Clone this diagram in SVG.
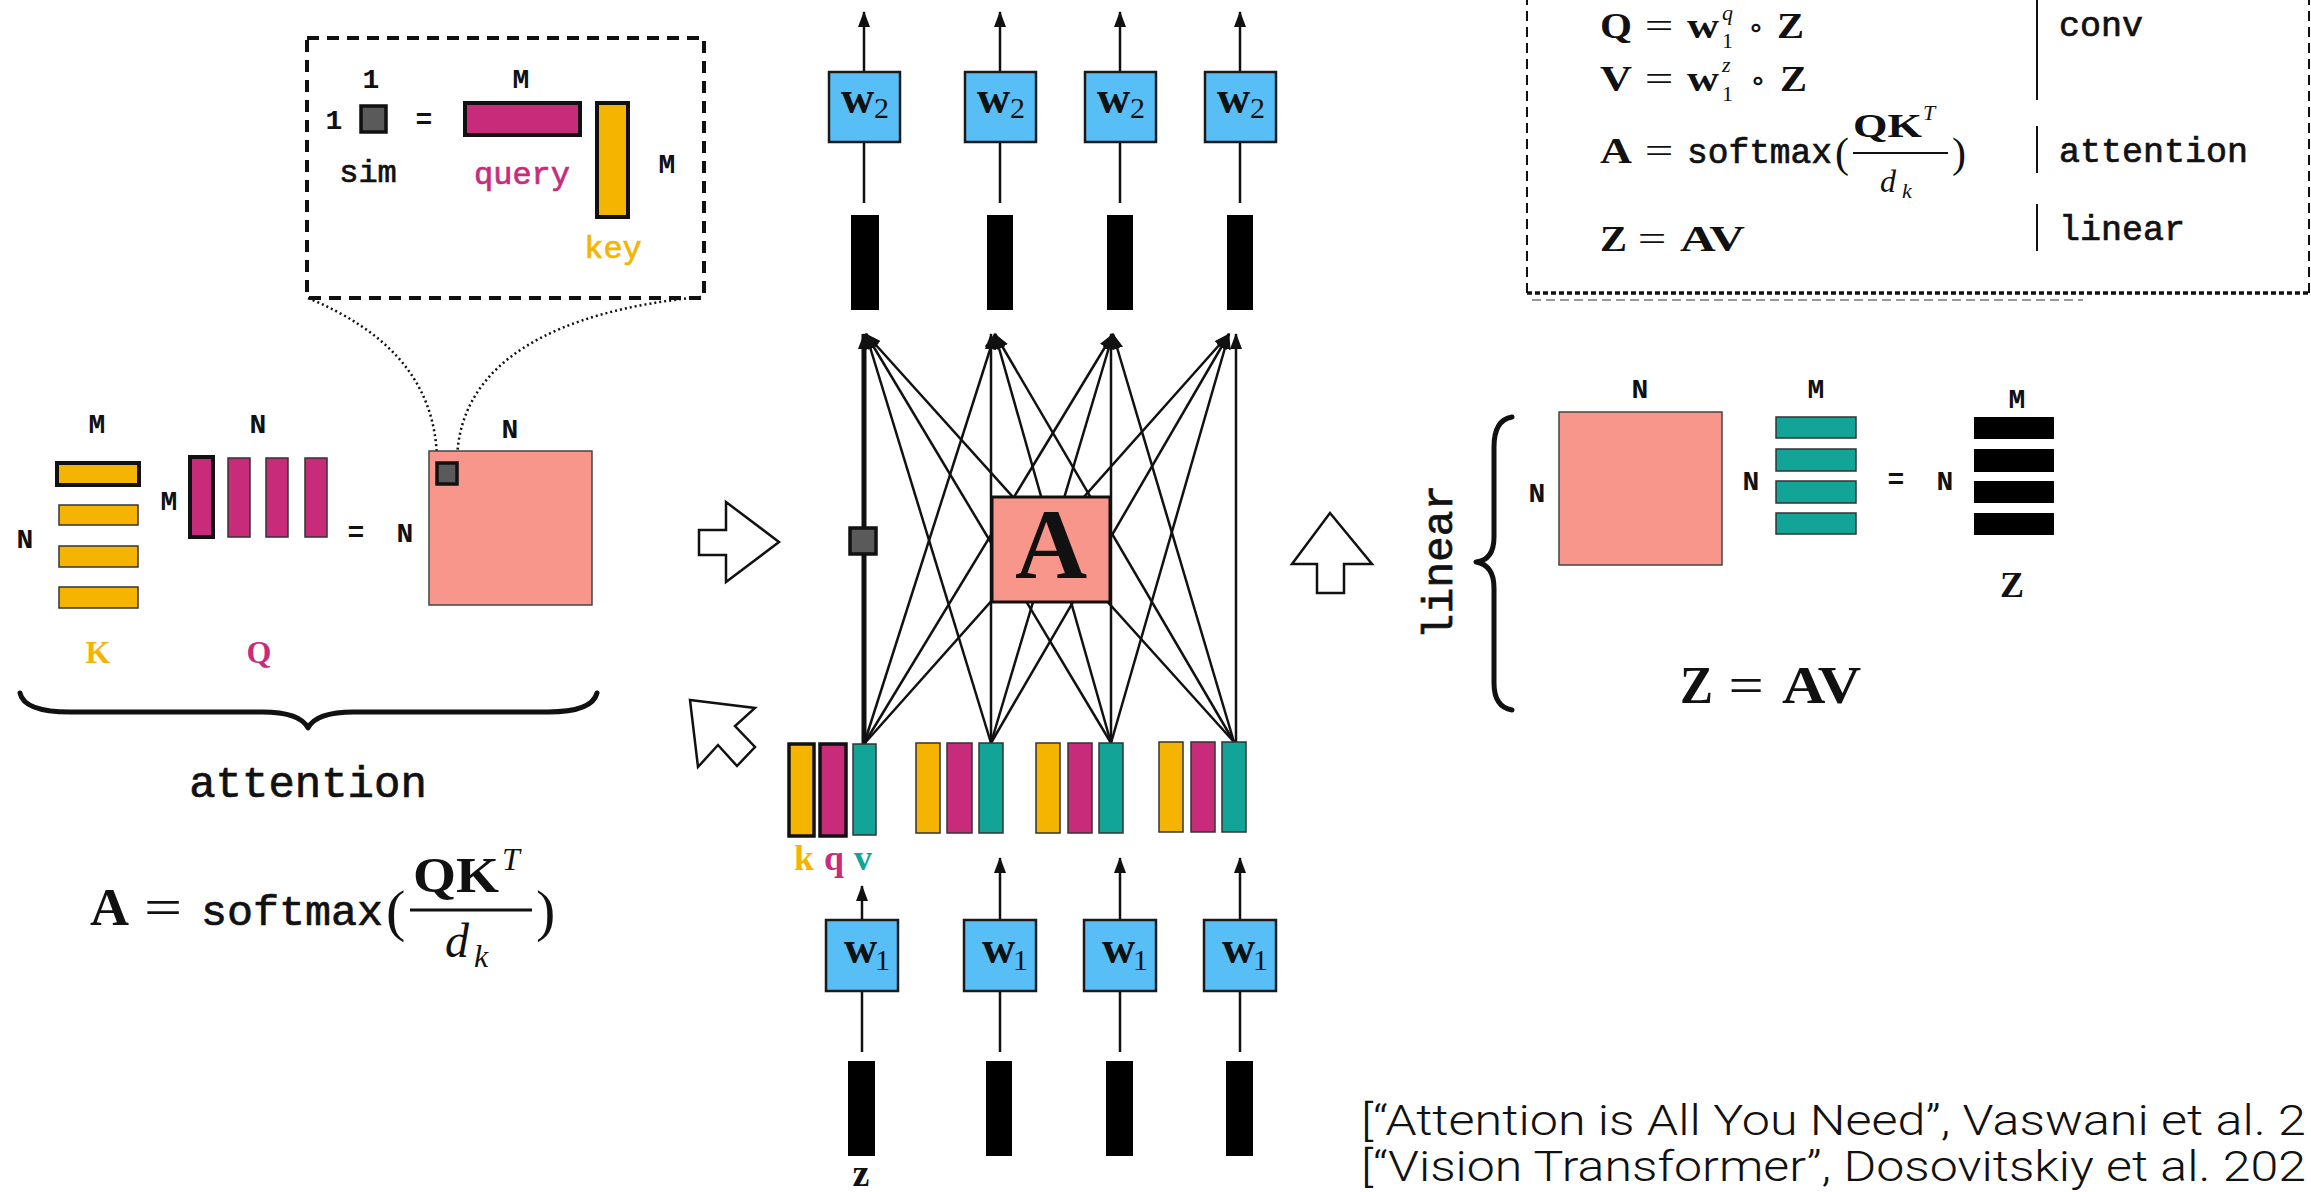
<svg xmlns="http://www.w3.org/2000/svg" width="2311" height="1192" viewBox="0 0 2311 1192">
<defs>
<style>
.mono{font-family:"Liberation Mono","DejaVu Sans Mono",monospace;fill:#111;stroke:#111;stroke-width:0.7}
.lab{font-family:"Liberation Mono","DejaVu Sans Mono",monospace;font-weight:bold;font-size:28px;fill:#111;text-anchor:middle}
.bs{font-family:"Liberation Serif","DejaVu Serif",serif;font-weight:bold;fill:#111}
.rm{font-family:"Liberation Serif","DejaVu Serif",serif;fill:#111}
.it{font-family:"Liberation Serif","DejaVu Serif",serif;font-style:italic;fill:#111}
.yel{fill:#F4B400}
.mag{fill:#C92B7B}
.teal{fill:#12A496}
.mono.yel{stroke:#F4B400}
.mono.mag{stroke:#C92B7B}
.thin{stroke:#333;stroke-width:1.5}
.thick{stroke:#111;stroke-width:4}
.blk{fill:#000}
.wbox{fill:#58BEF6;stroke:#1a1a1a;stroke-width:2.5}
.ln{stroke:#111;stroke-width:2.5;fill:none}
.hollow{fill:#fff;stroke:#111;stroke-width:2.5;stroke-linejoin:miter}
.brace{fill:none;stroke:#111;stroke-width:5;stroke-linecap:round;stroke-linejoin:round}
.cite{font-family:Roboto,"Open Sans","Liberation Sans",sans-serif;font-weight:300;font-size:42px;fill:#111}
</style>
<marker id="ah" markerUnits="userSpaceOnUse" markerWidth="16" markerHeight="12" refX="15" refY="6" orient="auto">
<path d="M0,0 L16,6 L0,12 z" fill="#111"/>
</marker>
</defs>
<rect width="2311" height="1192" fill="#fff"/>

<!-- connectors -->
<g id="connectors">
  <path d="M308,298 C385,330 437,380 437,463" fill="none" stroke="#111" stroke-width="2.5" stroke-dasharray="2 3"/>
  <path d="M701,297 C560,310 457,360 457,463" fill="none" stroke="#111" stroke-width="2.5" stroke-dasharray="2 3"/>
  <line x1="864" y1="744" x2="864" y2="334" stroke="#111" stroke-width="5" marker-end="url(#ah)"/>
  <line x1="991" y1="743" x2="991" y2="334" class="ln" marker-end="url(#ah)"/>
  <line x1="1111" y1="743" x2="1111" y2="334" class="ln" marker-end="url(#ah)"/>
  <line x1="1236" y1="742" x2="1236" y2="334" class="ln" marker-end="url(#ah)"/>
  <line x1="864" y1="744" x2="995" y2="334" class="ln" marker-end="url(#ah)"/>
  <line x1="864" y1="744" x2="1113" y2="334" class="ln" marker-end="url(#ah)"/>
  <line x1="864" y1="744" x2="1229" y2="334" class="ln" marker-end="url(#ah)"/>
  <line x1="991" y1="743" x2="866" y2="334" class="ln" marker-end="url(#ah)"/>
  <line x1="991" y1="743" x2="1113" y2="334" class="ln" marker-end="url(#ah)"/>
  <line x1="991" y1="743" x2="1229" y2="334" class="ln" marker-end="url(#ah)"/>
  <line x1="1111" y1="743" x2="866" y2="334" class="ln" marker-end="url(#ah)"/>
  <line x1="1111" y1="743" x2="995" y2="334" class="ln" marker-end="url(#ah)"/>
  <line x1="1111" y1="743" x2="1229" y2="334" class="ln" marker-end="url(#ah)"/>
  <line x1="1234" y1="742" x2="866" y2="334" class="ln" marker-end="url(#ah)"/>
  <line x1="1234" y1="742" x2="995" y2="334" class="ln" marker-end="url(#ah)"/>
  <line x1="1234" y1="742" x2="1113" y2="334" class="ln" marker-end="url(#ah)"/>
  <line x1="864" y1="72" x2="864" y2="12" class="ln" marker-end="url(#ah)"/>
  <line x1="1000" y1="72" x2="1000" y2="12" class="ln" marker-end="url(#ah)"/>
  <line x1="1120" y1="72" x2="1120" y2="12" class="ln" marker-end="url(#ah)"/>
  <line x1="1240" y1="72" x2="1240" y2="12" class="ln" marker-end="url(#ah)"/>
  <line x1="864" y1="142" x2="864" y2="203" class="ln"/>
  <line x1="1000" y1="142" x2="1000" y2="203" class="ln"/>
  <line x1="1120" y1="142" x2="1120" y2="203" class="ln"/>
  <line x1="1240" y1="142" x2="1240" y2="203" class="ln"/>
  <line x1="862" y1="920" x2="862" y2="886" class="ln" marker-end="url(#ah)"/>
  <line x1="1000" y1="920" x2="1000" y2="858" class="ln" marker-end="url(#ah)"/>
  <line x1="1120" y1="920" x2="1120" y2="858" class="ln" marker-end="url(#ah)"/>
  <line x1="1240" y1="920" x2="1240" y2="858" class="ln" marker-end="url(#ah)"/>
  <line x1="862" y1="991" x2="862" y2="1052" class="ln"/>
  <line x1="1000" y1="991" x2="1000" y2="1052" class="ln"/>
  <line x1="1120" y1="991" x2="1120" y2="1052" class="ln"/>
  <line x1="1240" y1="991" x2="1240" y2="1052" class="ln"/>
</g>

<!-- zoom box -->
<g id="zoom-box">
  <rect x="307" y="38" width="397" height="260" fill="none" stroke="#111" stroke-width="4" stroke-dasharray="12 8"/>
  <text x="371" y="88" class="lab">1</text>
  <text x="521" y="88" class="lab">M</text>
  <text x="334" y="129" class="lab">1</text>
  <rect x="361" y="106" width="25" height="26" fill="#5a5a5a" stroke="#111" stroke-width="3.5"/>
  <text x="424" y="128" class="lab">=</text>
  <rect x="465" y="103" width="115" height="32" class="mag" stroke="#111" stroke-width="4"/>
  <rect x="597" y="103" width="31" height="114" class="yel" stroke="#111" stroke-width="4"/>
  <text x="667" y="173" class="lab">M</text>
  <text x="368" y="182" class="mono" font-size="32" text-anchor="middle">sim</text>
  <text x="522" y="184" class="mono mag" font-size="32" text-anchor="middle">query</text>
  <text x="613" y="258" class="mono yel" font-size="32" text-anchor="middle">key</text>
</g>

<!-- K matrix -->
<g id="K">
  <text x="97" y="433" class="lab">M</text>
  <text x="25" y="548" class="lab">N</text>
  <rect x="57" y="463" width="82" height="22" class="yel thick"/>
  <rect x="59" y="505" width="79" height="20" class="yel thin"/>
  <rect x="59" y="546" width="79" height="21" class="yel thin"/>
  <rect x="59" y="587" width="79" height="21" class="yel thin"/>
  <text x="98" y="663" class="bs yel" font-size="32" text-anchor="middle">K</text>
</g>

<!-- Q matrix -->
<g id="Q">
  <text x="258" y="433" class="lab">N</text>
  <text x="169" y="510" class="lab">M</text>
  <rect x="190" y="457" width="23" height="80" class="mag thick"/>
  <rect x="228" y="458" width="22" height="79" class="mag thin"/>
  <rect x="266" y="458" width="22" height="79" class="mag thin"/>
  <rect x="305" y="458" width="22" height="79" class="mag thin"/>
  <text x="259" y="663" class="bs mag" font-size="32" text-anchor="middle">Q</text>
  <text x="356" y="541" class="lab">=</text>
</g>

<!-- A matrix (left) -->
<g id="A-matrix">
  <text x="510" y="438" class="lab">N</text>
  <text x="405" y="542" class="lab">N</text>
  <rect x="429" y="451" width="163" height="154" fill="#F9968B" stroke="#444" stroke-width="1.5"/>
  <rect x="437" y="463" width="20" height="21" fill="#5a5a5a" stroke="#111" stroke-width="3.5"/>
</g>

<!-- attention brace and formula -->
<g id="attention">
  <path class="brace" d="M20,693 Q24,712 70,712 L262,712 Q300,712 308,728 Q316,712 354,712 L548,712 Q592,712 597,693"/>
  <text x="308" y="797" class="mono" font-size="44" text-anchor="middle">attention</text>
  <text x="90" y="925" class="bs" font-size="52" textLength="39" lengthAdjust="spacingAndGlyphs">A</text>
  <text transform="translate(163,925) scale(1.3,1)" class="rm" font-size="52" text-anchor="middle">=</text>
  <text x="201" y="925" class="mono" font-size="43" textLength="182" lengthAdjust="spacingAndGlyphs">softmax</text>
  <text x="386" y="930" class="rm" font-size="58">(</text>
  <text x="413" y="892" class="bs" font-size="50" textLength="86" lengthAdjust="spacingAndGlyphs">QK</text>
  <text x="502" y="870" class="it" font-size="32">T</text>
  <line x1="410" y1="910" x2="532" y2="910" stroke="#111" stroke-width="3"/>
  <text x="445" y="957" class="it" font-size="48">d</text>
  <text x="474" y="967" class="it" font-size="32">k</text>
  <text x="536" y="930" class="rm" font-size="58">)</text>
</g>

<!-- hollow arrows -->
<g id="arrow-right">
  <polygon class="hollow" points="699,530 726,530 726,502 779,542 726,582 726,555 699,555"/>
</g>
<g id="arrow-cursor">
  <polygon class="hollow" points="690,700 755,708 735,726 755,747 737,766 718,745 698,767"/>
</g>
<g id="arrow-up">
  <polygon class="hollow" points="1330,513 1372,564 1344,564 1344,593 1317,593 1317,564 1292,564"/>
</g>

<!-- top w2 boxes and bars -->
<g id="w2-1"><rect x="829" y="72" width="71" height="70" class="wbox"/><text x="841" y="113" class="bs" font-size="46">w</text><text x="874" y="118" class="rm" font-size="30">2</text></g>
<g id="w2-2"><rect x="965" y="72" width="71" height="70" class="wbox"/><text x="977" y="113" class="bs" font-size="46">w</text><text x="1010" y="118" class="rm" font-size="30">2</text></g>
<g id="w2-3"><rect x="1085" y="72" width="71" height="70" class="wbox"/><text x="1097" y="113" class="bs" font-size="46">w</text><text x="1130" y="118" class="rm" font-size="30">2</text></g>
<g id="w2-4"><rect x="1205" y="72" width="71" height="70" class="wbox"/><text x="1217" y="113" class="bs" font-size="46">w</text><text x="1250" y="118" class="rm" font-size="30">2</text></g>
<g id="out-bars">
  <rect x="851" y="215" width="28" height="95" class="blk"/>
  <rect x="987" y="215" width="26" height="95" class="blk"/>
  <rect x="1107" y="215" width="26" height="95" class="blk"/>
  <rect x="1227" y="215" width="26" height="95" class="blk"/>
</g>

<g id="sim-cell">
  <rect x="850" y="528" width="26" height="26" fill="#5a5a5a" stroke="#111" stroke-width="3.5"/>
</g>

<g id="A-box">
  <rect x="992" y="497" width="118" height="105" fill="#F9968B" stroke="#111" stroke-width="3"/>
  <text x="1051" y="578" class="bs" font-size="100" text-anchor="middle">A</text>
</g>

<g id="kqv-1">
  <rect x="789" y="744" width="25" height="92" class="yel" stroke="#111" stroke-width="3.5"/>
  <rect x="820" y="744" width="26" height="92" class="mag" stroke="#111" stroke-width="3.5"/>
  <rect x="853" y="744" width="23" height="91" class="teal thin"/>
  <text x="804" y="870" class="bs yel" font-size="36" text-anchor="middle">k</text>
  <text x="834" y="870" class="bs mag" font-size="36" text-anchor="middle">q</text>
  <text x="863" y="870" class="bs teal" font-size="36" text-anchor="middle">v</text>
</g>
<g id="kqv-2">
  <rect x="916" y="743" width="24" height="90" class="yel thin"/>
  <rect x="947" y="743" width="25" height="90" class="mag thin"/>
  <rect x="979" y="743" width="24" height="90" class="teal thin"/>
</g>
<g id="kqv-3">
  <rect x="1036" y="743" width="24" height="90" class="yel thin"/>
  <rect x="1068" y="743" width="24" height="90" class="mag thin"/>
  <rect x="1099" y="743" width="24" height="90" class="teal thin"/>
</g>
<g id="kqv-4">
  <rect x="1159" y="742" width="24" height="90" class="yel thin"/>
  <rect x="1191" y="742" width="24" height="90" class="mag thin"/>
  <rect x="1222" y="742" width="24" height="90" class="teal thin"/>
</g>

<g id="w1-1"><rect x="826" y="920" width="72" height="71" class="wbox"/><text x="844" y="963" class="bs" font-size="46">w</text><text x="875" y="970" class="rm" font-size="30">1</text></g>
<g id="w1-2"><rect x="964" y="920" width="72" height="71" class="wbox"/><text x="982" y="963" class="bs" font-size="46">w</text><text x="1013" y="970" class="rm" font-size="30">1</text></g>
<g id="w1-3"><rect x="1084" y="920" width="72" height="71" class="wbox"/><text x="1102" y="963" class="bs" font-size="46">w</text><text x="1133" y="970" class="rm" font-size="30">1</text></g>
<g id="w1-4"><rect x="1204" y="920" width="72" height="71" class="wbox"/><text x="1222" y="963" class="bs" font-size="46">w</text><text x="1253" y="970" class="rm" font-size="30">1</text></g>

<g id="in-bars">
  <rect x="848" y="1061" width="27" height="95" class="blk"/>
  <rect x="986" y="1061" width="26" height="95" class="blk"/>
  <rect x="1106" y="1061" width="27" height="95" class="blk"/>
  <rect x="1226" y="1061" width="27" height="95" class="blk"/>
  <text x="861" y="1186" class="bs" font-size="38" text-anchor="middle">z</text>
</g>

<!-- formula box (top right) -->
<g id="formula-box">
  <path d="M1527,-5 L1527,293" fill="none" stroke="#111" stroke-width="2" stroke-dasharray="10 6"/>
  <path d="M2309,-5 L2309,293" fill="none" stroke="#111" stroke-width="2" stroke-dasharray="10 6"/>
  <path d="M1527,293 L2311,293" fill="none" stroke="#111" stroke-width="3.5" stroke-dasharray="5 3"/>
  <path d="M1532,300 L2083,300" fill="none" stroke="#777" stroke-width="1.5" stroke-dasharray="9 5"/>
  <text x="1600" y="38" class="bs" font-size="35" textLength="32" lengthAdjust="spacingAndGlyphs">Q</text>
  <text transform="translate(1659,38) scale(1.45,1)" class="rm" font-size="35" text-anchor="middle">=</text>
  <text x="1687" y="38" class="bs" font-size="35" textLength="32" lengthAdjust="spacingAndGlyphs">w</text>
  <text x="1722" y="20" class="it" font-size="22">q</text>
  <text x="1722" y="48" class="rm" font-size="22">1</text>
  <text x="1756" y="38" class="rm" font-size="32" text-anchor="middle">∘</text>
  <text x="1777" y="38" class="bs" font-size="35" textLength="27" lengthAdjust="spacingAndGlyphs">Z</text>
  <text x="1600" y="91" class="bs" font-size="35" textLength="32" lengthAdjust="spacingAndGlyphs">V</text>
  <text transform="translate(1659,91) scale(1.45,1)" class="rm" font-size="35" text-anchor="middle">=</text>
  <text x="1687" y="91" class="bs" font-size="35" textLength="32" lengthAdjust="spacingAndGlyphs">w</text>
  <text x="1722" y="72" class="it" font-size="22">z</text>
  <text x="1722" y="101" class="rm" font-size="22">1</text>
  <text x="1758" y="91" class="rm" font-size="32" text-anchor="middle">∘</text>
  <text x="1780" y="91" class="bs" font-size="35" textLength="27" lengthAdjust="spacingAndGlyphs">Z</text>
  <text x="1600" y="163" class="bs" font-size="35" textLength="32" lengthAdjust="spacingAndGlyphs">A</text>
  <text transform="translate(1659,163) scale(1.45,1)" class="rm" font-size="35" text-anchor="middle">=</text>
  <text x="1687" y="163" class="mono" font-size="35" textLength="145" lengthAdjust="spacingAndGlyphs">softmax</text>
  <text x="1835" y="167" class="rm" font-size="42">(</text>
  <text x="1853" y="137" class="bs" font-size="34" textLength="69" lengthAdjust="spacingAndGlyphs">QK</text>
  <text x="1923" y="120" class="it" font-size="22">T</text>
  <line x1="1853" y1="153" x2="1948" y2="153" stroke="#111" stroke-width="2"/>
  <text x="1880" y="192" class="it" font-size="32">d</text>
  <text x="1902" y="198" class="it" font-size="22">k</text>
  <text x="1952" y="167" class="rm" font-size="42">)</text>
  <text x="1600" y="251" class="bs" font-size="35" textLength="27" lengthAdjust="spacingAndGlyphs">Z</text>
  <text transform="translate(1652,251) scale(1.45,1)" class="rm" font-size="35" text-anchor="middle">=</text>
  <text x="1680" y="251" class="bs" font-size="35" textLength="65" lengthAdjust="spacingAndGlyphs">AV</text>
  <line x1="2037" y1="-5" x2="2037" y2="100" stroke="#111" stroke-width="2"/>
  <line x1="2037" y1="126" x2="2037" y2="173" stroke="#111" stroke-width="2"/>
  <line x1="2037" y1="204" x2="2037" y2="251" stroke="#111" stroke-width="2"/>
  <text x="2059" y="36" class="mono" font-size="35">conv</text>
  <text x="2059" y="162" class="mono" font-size="35">attention</text>
  <text x="2059" y="240" class="mono" font-size="35">linear</text>
</g>

<!-- linear section -->
<g id="linear">
  <text transform="translate(1452,562) rotate(-90)" class="mono" font-size="43" text-anchor="middle">linear</text>
  <path class="brace" d="M1512,417 Q1494,420 1494,447 L1494,537 Q1494,560 1476,562 Q1494,565 1494,588 L1494,683 Q1494,707 1512,710"/>
  <text x="1640" y="398" class="lab" font-size="26">N</text>
  <text x="1537" y="502" class="lab" font-size="26">N</text>
  <rect x="1559" y="412" width="163" height="153" fill="#F9968B" stroke="#444" stroke-width="1.5"/>
  <text x="1816" y="398" class="lab" font-size="26">M</text>
  <text x="1751" y="490" class="lab" font-size="26">N</text>
  <rect x="1776" y="417" width="80" height="21" class="teal thin"/>
  <rect x="1776" y="449" width="80" height="22" class="teal thin"/>
  <rect x="1776" y="481" width="80" height="22" class="teal thin"/>
  <rect x="1776" y="513" width="80" height="21" class="teal thin"/>
  <text x="1896" y="488" class="lab" font-size="26">=</text>
  <text x="1945" y="490" class="lab" font-size="26">N</text>
  <text x="2017" y="408" class="lab" font-size="26">M</text>
  <rect x="1974" y="417" width="80" height="22" class="blk"/>
  <rect x="1974" y="449" width="80" height="23" class="blk"/>
  <rect x="1974" y="481" width="80" height="22" class="blk"/>
  <rect x="1974" y="513" width="80" height="22" class="blk"/>
  <text x="2012" y="597" class="bs" font-size="36" text-anchor="middle">Z</text>
  <text x="1680" y="703" class="bs" font-size="52" textLength="33" lengthAdjust="spacingAndGlyphs">Z</text>
  <text transform="translate(1746,703) scale(1.2,1)" class="rm" font-size="52" text-anchor="middle">=</text>
  <text x="1782" y="703" class="bs" font-size="52" textLength="79" lengthAdjust="spacingAndGlyphs">AV</text>
</g>

<!-- citations -->
<g id="citations">
  <text x="1361" y="1135" class="cite" textLength="945" lengthAdjust="spacingAndGlyphs">[“Attention is All You Need”, Vaswani et al. 2</text>
  <text x="1361" y="1181" class="cite" textLength="945" lengthAdjust="spacingAndGlyphs">[“Vision Transformer”, Dosovitskiy et al. 202</text>
</g>
</svg>
